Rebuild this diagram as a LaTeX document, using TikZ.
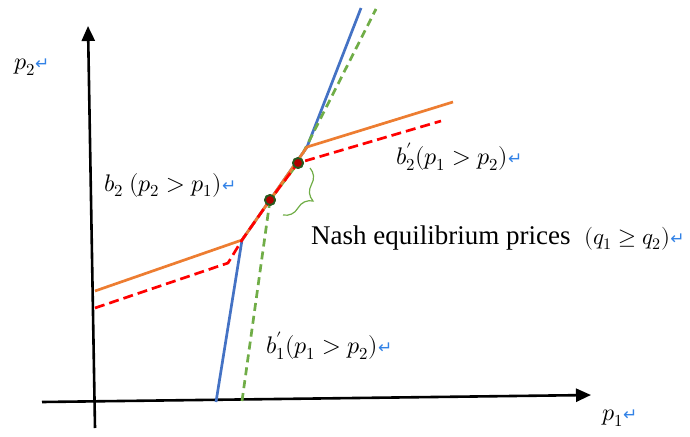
\documentclass[tikz,border=0pt]{standalone}
\usepackage{fontspec}
\usepackage{unicode-math}
\setmainfont{Liberation Serif}
\setmathfont{Latin Modern Math}
\newfontfamily\dvfont{DejaVu Sans}
\usetikzlibrary{arrows.meta,decorations.pathreplacing}
\definecolor{oblue}{RGB}{68,114,196}
\definecolor{oorange}{RGB}{237,125,49}
\definecolor{ogreen}{RGB}{112,173,71}
\definecolor{retblue}{RGB}{50,130,230}
\definecolor{dotgreen}{RGB}{40,90,30}
\newcommand\retmark{{\dvfont\fontsize{17}{17}\selectfont\color{retblue}↵}}
\begin{document}
\begin{tikzpicture}[x=1pt,y=-1pt,
  axis/.style={line width=2.6pt,black,-{Triangle[length=15pt,width=13pt]}},
  curve/.style={line width=2.7pt,line join=round},
  reddash/.style={curve,red,dash pattern=on 10pt off 5pt},
  greendash/.style={curve,ogreen,dash pattern=on 8pt off 5pt},
  eqdot/.style={circle,draw=dotgreen,fill=red!70!black,line width=1.8pt,minimum size=10pt,inner sep=0pt},
  lbl/.style={inner sep=0pt,font=\fontsize{24}{28}\selectfont},
  textlbl/.style={inner sep=0pt,font=\fontsize{27}{30}\selectfont}]
\useasboundingbox (0,0) rectangle (690,436);
% axes
\coordinate (xl) at (42,402);
\coordinate (xr) at (591,395);
\coordinate (yb) at (95,428);
\coordinate (yt) at (88,26);
\draw[axis] (xl) -- (xr);
\draw[axis] (yb) -- (yt);
% points
\coordinate (bb) at (216,402);
\coordinate (k1) at (242,240);
\coordinate (k2) at (307,147);
\coordinate (bt) at (361,8);
\coordinate (ol) at (95,291);
\coordinate (or) at (453,102);
\coordinate (rl) at (95,308);
\coordinate (rk) at (228,263);
\coordinate (rr) at (441,121);
\coordinate (gb) at (242,401);
\coordinate (gt) at (376,9);
\node[eqdot] (e1) at (270,200) {};
\node[eqdot] (e2) at (298,163) {};
% lines
\draw[curve,oblue] (bb) -- (k1) -- (k2) -- (bt);
\draw[greendash] (gb) -- (e1.center) -- (e2.center) -- (gt);
\draw[curve,oorange] (ol) -- (k1) -- (k2) -- (or);
\draw[reddash] (rl) -- (rk) -- (k1) -- (e1.center) -- (e2.center) -- (rr);
\node[eqdot] at (e1) {};
\node[eqdot] at (e2) {};
% brace
\coordinate (bra) at (310,168);
\coordinate (brb) at (283,215);
\draw[ogreen,line width=1.2pt,decorate,decoration={brace,amplitude=19pt,aspect=0.5}] (bra) -- (brb);
% labels
\node[lbl,anchor=west] (lp2) at (14,67) {$p_2$\retmark};
\node[lbl,anchor=west] (lp1) at (602,418) {$p_1$\retmark};
\node[lbl,anchor=west] (lb2) at (104,185) {$b_2\ (p_2 > p_1)$\retmark};
\node[lbl,anchor=west] (lb2p) at (396,157) {$b_2'(p_1 > p_2)$\retmark};
\node[lbl,anchor=west] (lb1p) at (266,346) {$b_1'(p_1 > p_2)$\retmark};
\node[textlbl,anchor=base west] (nash) at (311,244) {Nash equilibrium prices\ \ {\fontsize{23}{26}\selectfont$(q_1 \geq q_2)$}\retmark};
\end{tikzpicture}
\end{document}
